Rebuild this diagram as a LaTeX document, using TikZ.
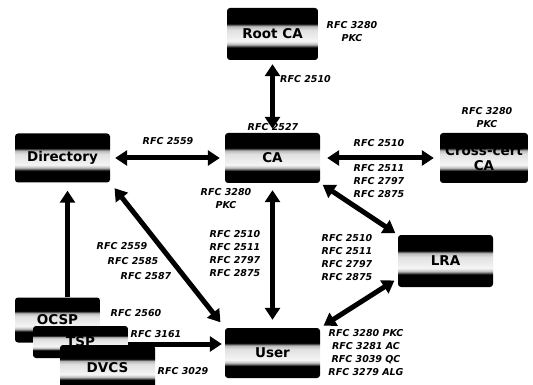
\documentclass[tikz,border=0pt]{standalone}
\usepackage{fontspec}
\newfontfamily\djv{DejaVu Sans}
\usetikzlibrary{arrows.meta,calc}
\pgfdeclareverticalshading{bandshade}{100bp}{color(0bp)=(black); color(37bp)=(black); color(40bp)=(gray!55); color(43bp)=(white!96!black); color(54bp)=(white!88!black); color(57.5bp)=(gray!55); color(60bp)=(black); color(100bp)=(black)}
\begin{document}
\begin{tikzpicture}[x=1pt,y=-1pt,
  box/.style={shade, shading=bandshade, rounded corners=3pt, draw=none, inner sep=0pt,
    font=\djv\bfseries\fontsize{13.5}{15}\selectfont, align=center},
  lab/.style={font=\djv\bfseries\itshape\fontsize{9.5}{13}\selectfont, align=center, inner sep=0pt},
  arr/.style={line width=5pt, >={Triangle[width=15pt,length=12pt]}}]
\useasboundingbox (0,0) rectangle (533,385);
% boxes
\node[box, minimum width=91pt, minimum height=52pt] (root) at (272.5,34) {Root CA};
\node[box, minimum width=95pt, minimum height=50pt] (ca) at (272.5,158) {CA};
\node[box, minimum width=95pt, minimum height=49pt] (dir) at (62.5,158) {Directory};
\node[box, minimum width=88pt, minimum height=50pt] (cross) at (484,158) {Cross-cert\\CA};
\node[box, minimum width=95pt, minimum height=52pt] (lra) at (445.5,261) {LRA};
\node[box, minimum width=95pt, minimum height=50pt] (user) at (272.5,353) {User};
\node[box, minimum width=85pt, minimum height=45pt] (ocsp) at (57.5,320) {OCSP};
\node[box, minimum width=95pt, minimum height=32pt] (tsp) at (80.5,342) {TSP};
\node[box, minimum width=95pt, minimum height=46pt] (dvcs) at (107.5,368) {DVCS};
% arrows
\draw[arr,<->,shorten <=4pt,shorten >=4pt] (root) -- (ca);
\draw[arr,<->,shorten <=5pt,shorten >=5pt] (dir) -- (ca);
\draw[arr,<->,shorten <=7pt,shorten >=6pt] (ca) -- (cross);
\draw[arr,<->,shorten <=7pt,shorten >=8pt] (ca) -- (user);
\draw[arr,<->,shorten <=3pt,shorten >=3pt] (ca.south east) -- (lra.north west);
\draw[arr,<->,shorten <=4pt,shorten >=4pt] (lra.200) -- (user.north east);
\draw[arr,<->,shorten <=7pt,shorten >=7pt] (dir.south east) -- (user.north west);
\draw[arr,->,shorten >=8pt] ([xshift=10pt]ocsp.north) -- ([xshift=10pt]ocsp.north |- dir.south);
\draw[arr,->,shorten >=3pt] ([yshift=-2pt]tsp.east) -- ([yshift=-2pt]tsp.east -| user.west);
% labels
\node[lab] (l1) at (352,32) {RFC 3280\\PKC};
\node[lab, anchor=west] (l2) at (280,79) {RFC 2510};
\node[lab] (l3) at (273,127) {RFC 2527};
\node[lab] (l4) at (168,141) {RFC 2559};
\node[lab] (l5) at (379,143) {RFC 2510};
\node[lab] (l6) at (379,181) {RFC 2511\\RFC 2797\\RFC 2875};
\node[lab] (l7) at (487,118) {RFC 3280\\PKC};
\node[lab] (l8) at (226,199) {RFC 3280\\PKC};
\node[lab] (l9) at (235,254) {RFC 2510\\RFC 2511\\RFC 2797\\RFC 2875};
\node[lab] (l10) at (347,258) {RFC 2510\\RFC 2511\\RFC 2797\\RFC 2875};
\node[lab] (l11) at (366,353) {RFC 3280 PKC\\RFC 3281 AC\\RFC 3039 QC\\RFC 3279 ALG};
\node[lab] (l12) at (122,246) {RFC 2559};
\node[lab] (l13) at (133,261) {RFC 2585};
\node[lab] (l14) at (146,276) {RFC 2587};
\node[lab] (l15) at (136,313) {RFC 2560};
\node[lab] (l16) at (156,334) {RFC 3161};
\node[lab] (l17) at (183,371) {RFC 3029};
\end{tikzpicture}
\end{document}
